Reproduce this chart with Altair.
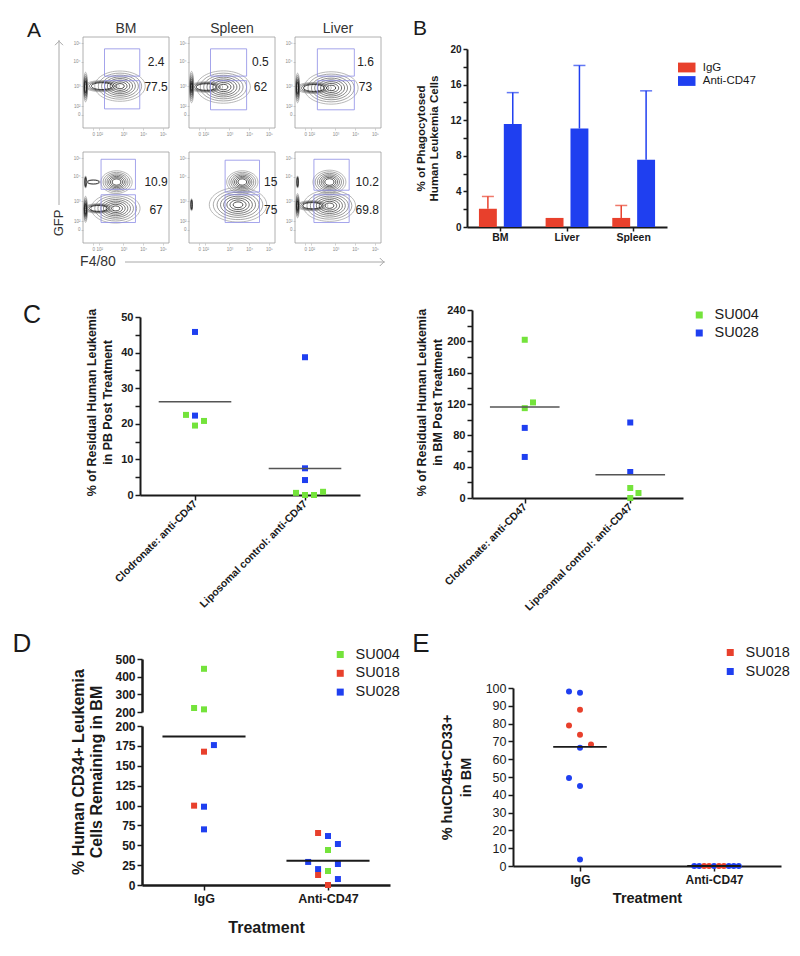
import altair as alt
import pandas as pd

FONT = "Liberation Sans"
INK = "#1a1a1a"
BLUE = "#1f3ff0"
RED = "#e8402c"
GREEN = "#74e33b"
GATE = "#8d8de6"
ONE = pd.DataFrame({"k": [0]})
W, H = 784, 940

# ---------------- Panel A: flow plots ----------------
A_COLUMNS = ["BM", "Spleen", "Liver"]
A_TICK_TEXT = ["0", "10²", "10³", "10⁴", "10⁵"]
A_X_TICKS = [12, 19, 47, 70, 93]
A_Y_TICKS = [14.5, 24, 46, 73, 93]
A_FRAME = [0, 100]
# gate boxes per cell: x1, x2, upper y1, upper y2, lower y1, lower y2
A_GATES = [
    [[25, 66, 57, 87, 21, 52], [25, 67, 57, 87, 20, 52], [26, 69, 57, 87, 20, 52]],
    [[21, 61, 59, 92, 22.5, 53], [42, 82, 56, 91, 22.5, 53], [22, 63, 58, 92, 22.5, 53]],
]
A_UPPER_PCT = [["2.4", "0.5", "1.6"], ["10.9", "15", "10.2"]]
A_LOWER_PCT = [["77.5", "62", "73"], ["67", "75", "69.8"]]
A_PCT_X = [[85, 83, 82], [85, 95, 84]]
A_PCT_Y = [[73, 45], [67, 36]]
# contour populations: form, centre x, centre y, extent, number of contour rings
A_BLOBS = [
    [
        [("wide", 43, 46, 58, 8), ("thin", 22, 46, 40, 4), ("stripe", 3, 45, 34, 6)],
        [("wide", 40, 45, 62, 8), ("thin", 20, 45, 38, 4), ("stripe", 3, 45, 36, 7)],
        [("wide", 42, 44, 62, 8), ("thin", 22, 44, 40, 4), ("stripe", 3, 44, 34, 6)],
    ],
    [
        [("oval", 39, 67, 36, 7), ("wide", 38, 38, 56, 8), ("thin", 18, 38, 34, 4),
         ("stripe", 3, 37, 30, 6), ("stripe", 3, 67, 14, 3), ("thin", 12, 67, 16, 2)],
        [("oval", 62, 67, 36, 7), ("wide", 57, 42, 66, 8), ("stripe", 3, 42, 14, 3)],
        [("oval", 40, 67, 38, 7), ("wide", 40, 41, 60, 8), ("thin", 20, 41, 36, 4),
         ("stripe", 3, 41, 28, 6), ("stripe", 3, 67, 14, 3)],
    ],
]
A_RING_STEPS = [1.0, 0.86, 0.73, 0.61, 0.5, 0.39, 0.28, 0.17]
A_FORMS = ["wide", "oval", "thin", "stripe"]
A_PATHS = [
    "M-1,0A1,0.6,0,1,1,1,0A1,0.6,0,1,1,-1,0Z",
    "M-1,0A1,0.72,0,1,1,1,0A1,0.72,0,1,1,-1,0Z",
    "M-1,0A1,0.32,0,1,1,1,0A1,0.32,0,1,1,-1,0Z",
    "M-0.14,0A0.14,1,0,1,1,0.14,0A0.14,1,0,1,1,-0.14,0Z",
]

# ---------------- Panel B ----------------
B_TISSUES = ["BM", "Liver", "Spleen"]
B_GROUPS = ["IgG", "Anti-CD47"]
B_IGG_MEAN = [2.05, 1.02, 1.02]
B_IGG_SEM = [1.38, 0.0, 1.40]
B_ANTI_MEAN = [11.58, 11.06, 7.55]
B_ANTI_SEM = [3.52, 7.09, 7.75]

# ---------------- Panel C ----------------
C_CATS = ["Clodronate: anti-CD47", "Liposomal control: anti-CD47"]
C_PB_TITLE = ["% of Residual Human Leukemia", "in PB Post Treatment"]
C_BM_TITLE = ["% of Residual Human Leukemia", "in BM Post Treatment"]
C_PB_GROUP = [0, 0, 0, 0, 0, 1, 1, 1, 1, 1, 1, 1]
C_PB_SLOT = [0, 0, -1, 0, 1, 0, 0, 0, -1, 0, 1, 2]
C_PB_PATIENT = ["SU028", "SU028", "SU004", "SU004", "SU004",
                "SU028", "SU028", "SU028", "SU004", "SU004", "SU004", "SU004"]
C_PB_VALUE = [45.8, 22.3, 22.5, 19.5, 20.8, 38.7, 7.5, 4.2, 0.6, 0.0, 0.0, 0.9]

C_BM_GROUP = [0, 0, 0, 0, 0, 1, 1, 1, 1, 1]
C_BM_SLOT = [0, 1, 0, 0, 0, 0, 0, 0, 1, 0]
C_BM_PATIENT = ["SU004", "SU004", "SU004", "SU028", "SU028",
                "SU028", "SU028", "SU004", "SU004", "SU004"]
C_BM_VALUE = [202, 122, 114.7, 89.5, 52.4, 96.4, 33.2, 12.8, 6.4, 0.0]

# ---------------- Panel D ----------------
D_CATS = ["IgG", "Anti-CD47"]
D_GROUP = [0] * 8 + [1] * 11
D_SLOT = [0, -1, 0, 1, 0, -1, 0, 0] + [-1, 0, 1, 0, -2, -1, 1, 0, -1, 1, 0]
D_PATIENT = ["SU004", "SU004", "SU004", "SU028", "SU018", "SU018", "SU028", "SU028",
             "SU018", "SU028", "SU028", "SU004", "SU028", "SU028", "SU028", "SU004",
             "SU018", "SU028", "SU018"]
D_VALUE = [444.5, 222.7, 215, 176, 167.7, 99.8, 98.5, 70,
           65.4, 61.6, 51.6, 44, 29, 20, 26.4, 17.6, 12.6, 7.5, 0]

# ---------------- Panel E ----------------
E_GROUP = [0] * 10 + [1] * 10
E_SLOT = [-1, 0, 0, -1, 0, 1, 0, -1, 0, 0] + [-1.8, -1.35, -0.9, -0.45, 0, 0.45, 0.9, 1.35, 1.8, 2.25]
E_PATIENT = ["SU028", "SU028", "SU018", "SU018", "SU018", "SU018", "SU028", "SU028", "SU028", "SU028",
             "SU028", "SU028", "SU018", "SU018", "SU028", "SU018", "SU018", "SU028", "SU028", "SU028"]
E_VALUE = [98.1, 97.4, 87.8, 79.0, 73.8, 68.2, 66.5, 49.4, 44.9, 3.7] + [0] * 10

# panel frames on the page (pixels inside the drawing area): x range, y range (bottom, top)
CELL_X = [[75, 161], [181, 267], [287, 373]]
CELL_Y = [[120, 29], [235, 144]]
B_BOX = ([459, 659], [219, 41])
C1_BOX = ([132, 352], [487, 309])
C2_BOX = ([464, 675], [490, 302])
DU_BOX = ([134, 382], [704, 651])
DL_BOX = ([134, 382], [877, 718])
E_BOX = ([505, 773], [858, 680])


# ---------------- helpers ----------------
def deco_text(text, x, y, size, angle=0, weight="normal", color=INK, baseline="alphabetic", line_height=None,
              align="center"):
    kw = dict(text=text, fontSize=size, font=FONT, fontWeight=weight, color=color,
              align=align, baseline=baseline, angle=angle)
    if line_height:
        kw["lineHeight"] = line_height
    return alt.Chart(ONE).mark_text(**kw).encode(x=alt.value(x), y=alt.value(y))


def deco_rule(x1, x2, y1, y2, color="#a8a8a8"):
    return alt.Chart(ONE).mark_rule(color=color, strokeWidth=1).encode(
        x=alt.value(x1), x2=alt.value(x2), y=alt.value(y1), y2=alt.value(y2))


def deco_head(x, y, path, color="#a8a8a8"):
    return alt.Chart(ONE).mark_point(shape=path, filled=False, size=64, color=color,
                                     strokeWidth=1, opacity=1).encode(x=alt.value(x), y=alt.value(y))


def label_map(values, texts):
    expr = "''"
    for v, t in reversed(list(zip(values, texts))):
        expr = f"datum.value == {v} ? '{t}' : ({expr})"
    return expr


def lin(domain, rng):
    return alt.Scale(domain=domain, range=rng, nice=False, zero=False)


# ---------------- Panel A build ----------------
def a_axis(values, orient, offset):
    return alt.Axis(values=values, labelExpr=label_map(values, A_TICK_TEXT), title=None, grid=False,
                    orient=orient, offset=offset, domain=False, tickSize=2, tickColor="#b5b5b5", tickWidth=0.6,
                    labelFontSize=4.5, labelColor="#8a8a8a", labelPadding=1, labelOverlap=False,
                    labelFlush=False, labelFont=FONT)


def flow_cell(r, c):
    xsc = lin([0, 100], CELL_X[c])
    ysc = lin([0, 100], CELL_Y[r])
    xax = a_axis(A_X_TICKS, "bottom", CELL_Y[r][0] - H)
    yax = a_axis(A_Y_TICKS, "left", -CELL_X[c][0])

    def ax(f):
        return alt.X(f, type="quantitative", scale=xsc, axis=xax)

    def ay(f):
        return alt.Y(f, type="quantitative", scale=ysc, axis=yax)

    rings = []
    for form, cx, cy, ext, n in A_BLOBS[r][c]:
        for i in range(n):
            rings.append({"cx": cx, "cy": cy, "form": form,
                          "sz": (ext * 0.87 * A_RING_STEPS[i]) ** 2,
                          "shade": i / max(n - 1, 1)})
    g = A_GATES[r][c]
    gates = pd.DataFrame({"x1": [g[0], g[0]], "x2": [g[1], g[1]], "y1": [g[2], g[4]], "y2": [g[3], g[5]]})
    texts = pd.DataFrame({"tx": [A_PCT_X[r][c]] * 2, "ty": A_PCT_Y[r],
                          "label": [A_UPPER_PCT[r][c], A_LOWER_PCT[r][c]]})
    frame = pd.DataFrame({"x1": [A_FRAME[0]], "x2": [A_FRAME[1]], "y1": [A_FRAME[0]], "y2": [A_FRAME[1]]})
    frame_layer = alt.Chart(frame).mark_rect(fillOpacity=0, stroke="#9c9c9c", strokeWidth=0.8).encode(
        x=ax("x1"), x2="x2:Q", y=ay("y1"), y2="y2:Q")
    ring_layer = alt.Chart(pd.DataFrame(rings)).mark_point(filled=False, opacity=1, strokeWidth=0.7).encode(
        x=ax("cx"), y=ay("cy"),
        shape=alt.Shape("form:N", scale=alt.Scale(domain=A_FORMS, range=A_PATHS), legend=None),
        size=alt.Size("sz:Q", scale=None, legend=None),
        stroke=alt.Stroke("shade:Q", scale=alt.Scale(domain=[0, 1], range=["#9a9a9a", "#050505"]), legend=None),
    )
    gate_layer = alt.Chart(gates).mark_rect(fillOpacity=0, stroke=GATE, strokeWidth=0.8).encode(
        x=ax("x1"), x2="x2:Q", y=ay("y1"), y2="y2:Q")
    text_layer = alt.Chart(texts).mark_text(fontSize=12, color="#222", font=FONT).encode(
        x=ax("tx"), y=ay("ty"), text="label:N")
    layers = [frame_layer, ring_layer, gate_layer, text_layer]
    if r == 0:
        layers.append(deco_text(A_COLUMNS[c], (CELL_X[c][0] + CELL_X[c][1]) / 2, 25, 14, color="#333"))
    return alt.layer(*layers)


a_layers = [flow_cell(r, c) for r in range(2) for c in range(3)]
a_layers += [
    deco_text("A", 26, 29, 21),
    deco_text("GFP", 51, 215, 13, angle=270, color="#333", baseline="middle"),
    deco_rule(51, 51, 197, 32),
    deco_head(51, 34, "M-1,0.8L0,-0.2L1,0.8"),
    deco_text("F4/80", 90, 254, 14, color="#333", baseline="middle"),
    deco_rule(117, 377, 254, 254),
    deco_head(375, 254, "M-0.8,-1L0.2,0L-0.8,1"),
]

# ---------------- Panel B build ----------------
b_rows = []
for i, t in enumerate(B_TISSUES):
    b_rows.append({"tissue": t, "group": "IgG", "mean": B_IGG_MEAN[i], "sem": B_IGG_SEM[i]})
    b_rows.append({"tissue": t, "group": "Anti-CD47", "mean": B_ANTI_MEAN[i], "sem": B_ANTI_SEM[i]})
b_df = pd.DataFrame(b_rows)

B_X = alt.X("tissue:N", sort=B_TISSUES,
            scale=alt.Scale(domain=B_TISSUES, range=B_BOX[0], paddingInner=0, paddingOuter=0),
            axis=alt.Axis(title=None, orient="bottom", offset=B_BOX[1][0] - H, labelAngle=0, labelFont=FONT,
                          labelFontWeight="bold", labelFontSize=10.5, labelColor=INK, domainColor=INK,
                          domainWidth=2, tickColor=INK, tickWidth=1.5, tickSize=4, labelPadding=1,
                          bandPosition=0.5))
B_XO = alt.XOffset("group:N", sort=B_GROUPS, scale=alt.Scale(domain=B_GROUPS, paddingInner=0.28, paddingOuter=0.48))
B_YS = lin([0, 20], B_BOX[1])
B_YAXIS = alt.Axis(values=list(range(0, 21, 2)), labelExpr="datum.value % 4 == 0 ? datum.label : ''",
                   orient="left", offset=-B_BOX[0][0],
                   title=["% of Phagocytosed", "Human Leukemia Cells"], titleFontSize=11.5,
                   titleFontWeight="bold", titleLineHeight=13, titlePadding=10, titleColor=INK, titleLimit=600,
                   labelFontSize=10, labelFontWeight="bold", labelColor=INK, domainColor=INK, domainWidth=2,
                   tickColor=INK, tickWidth=1.5, tickSize=4, labelPadding=2, grid=False,
                   labelFlush=False, labelOverlap=False)

b_bars = alt.Chart(b_df).mark_bar().encode(
    x=B_X, xOffset=B_XO, y=alt.Y("mean:Q", scale=B_YS, axis=B_YAXIS),
    color=alt.Color("group:N", scale=alt.Scale(domain=B_GROUPS, range=[RED, BLUE]),
                    legend=alt.Legend(orient="none", legendX=671.75, legendY=52.5, title=None,
                                      symbolType="M-1.25,-0.7H1.25V0.7H-1.25Z", symbolSize=196,
                                      symbolStrokeWidth=0, labelFontSize=11.5, labelFont=FONT,
                                      labelColor=INK, rowPadding=0.5, labelOffset=9, padding=0)),
)
b_layers = [b_bars]
for grp, col in zip(B_GROUPS, [RED, BLUE]):
    base = (alt.Chart(b_df).transform_filter(alt.datum.group == grp)
            .transform_filter(alt.datum.sem > 0)
            .transform_calculate(top="datum.mean + datum.sem"))
    b_layers.append(base.mark_rule(color=col, strokeWidth=1.5).encode(
        x=B_X, xOffset=B_XO, y=alt.Y("mean:Q", scale=B_YS, axis=B_YAXIS), y2="top:Q"))
    b_layers.append(base.mark_tick(color=col, thickness=1.5, size=12).encode(
        x=B_X, xOffset=B_XO, y=alt.Y("top:Q", scale=B_YS, axis=B_YAXIS)))
b_layers.append(deco_text("B", 412, 27, 21))
panel_b = alt.layer(*b_layers)


# ---------------- dot plot helpers ----------------
def cat_axis(cats, size, offset, angle=0, title=None, title_pad=10, title_size=16, label_pad=2, dw=2):
    kw = dict(values=[0, 1], labelExpr=f"datum.value == 0 ? '{cats[0]}' : '{cats[1]}'", grid=False,
              orient="bottom", offset=offset,
              labelFontSize=size, labelFontWeight="bold", labelColor=INK, domainColor=INK, domainWidth=dw,
              tickColor=INK, tickWidth=1.5, tickSize=5, labelPadding=label_pad, labelFlush=False,
              labelOverlap=False, labelFont=FONT, labelLimit=600)
    if angle:
        kw.update(labelAngle=angle, labelAlign="right", labelBaseline="middle")
    else:
        kw.update(labelAngle=0)
    if title:
        kw.update(title=title, titleFontSize=title_size, titleFontWeight="bold", titleColor=INK,
                  titlePadding=title_pad, titleFont=FONT, titleLimit=600)
    else:
        kw.update(title=None)
    return alt.Axis(**kw)


def val_axis(values, expr, size, offset, weight="bold", title=None, title_size=12.5, title_lh=16, title_pad=12,
             dw=2):
    kw = dict(values=values, labelExpr=expr, grid=False, orient="left", offset=offset,
              labelFontSize=size, labelFontWeight=weight,
              labelColor=INK, domainColor=INK, domainWidth=dw, tickColor=INK, tickWidth=1.5, tickSize=5,
              labelPadding=2, labelFlush=False, labelOverlap=False, labelFont=FONT)
    if title:
        kw.update(title=title, titleFontSize=title_size, titleFontWeight="bold", titleColor=INK,
                  titleLineHeight=title_lh, titlePadding=title_pad, titleFont=FONT, titleLimit=600)
    else:
        kw.update(title=None)
    return alt.Axis(**kw)


def sq_legend(x, y, row_pad):
    return alt.Legend(orient="none", legendX=x, legendY=y, title=None, symbolType="square", symbolSize=49,
                      symbolStrokeWidth=0, symbolOpacity=1, labelFontSize=14.5, labelFont=FONT, labelColor=INK,
                      rowPadding=row_pad, labelOffset=8, padding=0)


def dot_layers(df, xscale, xaxis, yscale, yaxis, cdomain, crange, legend, mark="square", size=36, half=0.33,
               rule_color=INK, rule_width=1.6, jit=0.082, point_filter=None, with_rule=True):
    base = alt.Chart(df)
    pts = base.transform_calculate(px=f"datum.grp + datum.slot * {jit}")
    if point_filter is not None:
        pts = pts.transform_filter(point_filter)
    pm = pts.mark_square(size=size, opacity=1) if mark == "square" else pts.mark_circle(size=size, opacity=1)
    pm = pm.encode(x=alt.X("px:Q", scale=xscale, axis=xaxis),
                   y=alt.Y("value:Q", scale=yscale, axis=yaxis),
                   color=alt.Color("patient:N", scale=alt.Scale(domain=cdomain, range=crange), legend=legend))
    layers = [pm]
    if with_rule:
        rl = (base.transform_aggregate(m="mean(value)", groupby=["grp"])
              .transform_calculate(xa=f"datum.grp - {half}", xb=f"datum.grp + {half}")
              .mark_rule(color=rule_color, strokeWidth=rule_width)
              .encode(x=alt.X("xa:Q", scale=xscale, axis=xaxis), x2="xb:Q",
                      y=alt.Y("m:Q", scale=yscale, axis=yaxis)))
        layers.append(rl)
    return layers


# ---------------- Panel C build ----------------
c1_df = pd.DataFrame({"grp": C_PB_GROUP, "slot": C_PB_SLOT, "patient": C_PB_PATIENT, "value": C_PB_VALUE})
c1_layers = dot_layers(
    c1_df, lin([-0.5, 1.5], C1_BOX[0]), cat_axis(C_CATS, 10.5, C1_BOX[1][0] - H, angle=-45),
    lin([0, 50], C1_BOX[1]),
    val_axis(list(range(0, 51, 5)), "datum.value % 10 == 0 ? datum.label : ''", 11, -C1_BOX[0][0]),
    ["SU004", "SU028"], [GREEN, BLUE], None, rule_color="#555", rule_width=1.5)
c1_layers.append(deco_text("C", 24, 315, 25))
c1_layers.append(deco_text(C_PB_TITLE, 84, 394.5, 12.4, angle=270, weight="bold", baseline="middle",
                           line_height=16))
panel_c1 = alt.layer(*c1_layers)

c2_df = pd.DataFrame({"grp": C_BM_GROUP, "slot": C_BM_SLOT, "patient": C_BM_PATIENT, "value": C_BM_VALUE})
c2_layers = dot_layers(
    c2_df, lin([-0.5, 1.5], C2_BOX[0]), cat_axis(C_CATS, 10.5, C2_BOX[1][0] - H, angle=-45),
    lin([0, 240], C2_BOX[1]),
    val_axis(list(range(0, 241, 20)), "datum.value % 40 == 0 ? datum.label : ''", 11, -C2_BOX[0][0]),
    ["SU004", "SU028"], [GREEN, BLUE], sq_legend(684, 299.75, 3), rule_color="#555", rule_width=1.5,
    jit=0.078)
c2_layers.append(deco_text(C_BM_TITLE, 414, 394.5, 12.4, angle=270, weight="bold", baseline="middle",
                           line_height=16))
panel_c2 = alt.layer(*c2_layers)

# ---------------- Panel D build ----------------
d_df = pd.DataFrame({"grp": D_GROUP, "slot": D_SLOT, "patient": D_PATIENT, "value": D_VALUE})
D_PATS = ["SU004", "SU018", "SU028"]
d_up_layers = dot_layers(
    d_df, lin([-0.5, 1.5], DU_BOX[0]), None, lin([200, 500], DU_BOX[1]),
    val_axis([200, 300, 400, 500], "datum.label", 12, -DU_BOX[0][0], dw=2.5),
    D_PATS, [GREEN, RED, BLUE], sq_legend(325, 639.25, 3.8), jit=0.08,
    point_filter=alt.datum.value > 200, with_rule=False)
d_up_layers.append(deco_text("D", 14, 644, 26))
panel_du = alt.layer(*d_up_layers)

d_lo_layers = dot_layers(
    d_df, lin([-0.5, 1.5], DL_BOX[0]),
    cat_axis(D_CATS, 12.5, DL_BOX[1][0] - H, title="Treatment", title_pad=15, title_size=16, dw=2.5),
    lin([0, 200], DL_BOX[1]),
    val_axis(list(range(0, 201, 25)), "datum.label", 12, -DL_BOX[0][0], dw=2.5),
    D_PATS, [GREEN, RED, BLUE], None, half=0.335, jit=0.08, rule_width=1.8,
    point_filter=alt.datum.value <= 200)
d_lo_layers.append(deco_text(["% Human CD34+ Leukemia", "Cells Remaining in BM"], 71, 764, 16, angle=270,
                             weight="bold", baseline="middle", line_height=18))
panel_dl = alt.layer(*d_lo_layers)

# ---------------- Panel E build ----------------
e_df = pd.DataFrame({"grp": E_GROUP, "slot": E_SLOT, "patient": E_PATIENT, "value": E_VALUE})
e_layers = dot_layers(
    e_df, lin([-0.5, 1.5], E_BOX[0]),
    cat_axis(D_CATS, 12, E_BOX[1][0] - H, title="Treatment", title_pad=6, title_size=14.5, label_pad=3),
    lin([0, 100], E_BOX[1]),
    val_axis(list(range(0, 101, 10)), "datum.label", 12.5, -E_BOX[0][0], weight="normal",
             title=["% huCD45+CD33+", "in BM"], title_size=14.5, title_lh=19, title_pad=12),
    ["SU018", "SU028"], [RED, BLUE], sq_legend(715, 637.25, 4), mark="circle", size=36, half=0.2,
    rule_width=1.8)
e_layers.append(deco_text("E", 413, 644, 26))
panel_e = alt.layer(*e_layers)

# ---------------- whole figure ----------------
chart = (alt.layer(*a_layers, panel_b, panel_c1, panel_c2, panel_du, panel_dl, panel_e)
         .resolve_scale(x="independent", y="independent", color="independent", shape="independent",
                        size="independent", stroke="independent")
         .resolve_axis(x="independent", y="independent")
         .resolve_legend(color="independent")
         .properties(width=W, height=H, padding=0, background="white")
         .configure_view(stroke="transparent")
         .configure_axis(labelFont=FONT, titleFont=FONT)
         .configure_legend(labelFont=FONT)
         .configure_title(font=FONT))

chart.save("out.html", embed_options={"renderer": "svg", "actions": False})
